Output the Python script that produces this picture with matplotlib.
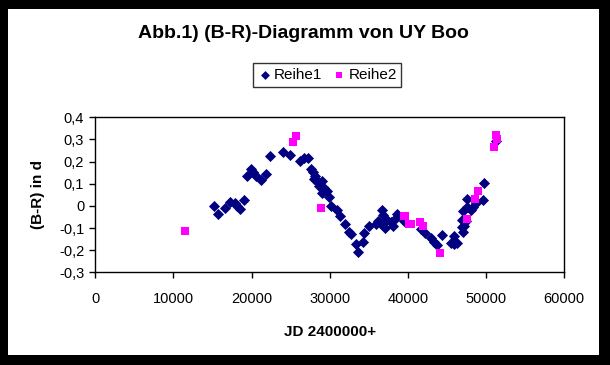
import matplotlib
matplotlib.use("Agg")
import matplotlib.pyplot as plt
from matplotlib.patches import Rectangle
from matplotlib.ticker import FuncFormatter

# Reihe1 (diamonds)
r1_x = [15130, 15730, 16540, 17180, 17820, 18130, 18460, 18970, 19400, 19870,
        20180, 20560, 21150, 21880, 22400, 24060, 24870, 26240, 26760, 27180,
        27560, 27870, 28080, 28040, 28380, 29020, 28590, 29230, 29020, 29580,
        29870, 30090, 30860, 31280, 31970, 32440, 32740, 33290, 33590, 34280,
        34360, 35000, 35860, 36150, 36410, 36720, 36840, 37010, 37360, 37780,
        38130, 38550, 38420, 39490, 41630, 42140, 42910, 43330, 43680, 44360,
        45470, 45900, 45900, 46330, 47010, 46880, 46970, 47100, 47530, 47610,
        48040, 48260, 48680, 49540, 49670, 51240, 47180, 47400]
r1_y = [0.000, -0.036, -0.009, 0.018, 0.012, 0.000, -0.014, 0.028, 0.134, 0.168,
        0.152, 0.137, 0.117, 0.146, 0.227, 0.242, 0.232, 0.201, 0.217, 0.218,
        0.168, 0.153, 0.137, 0.122, 0.111, 0.111, 0.089, 0.081, 0.056, 0.066,
        0.041, -0.002, -0.017, -0.047, -0.081, -0.119, -0.128, -0.170, -0.208, -0.164,
        -0.122, -0.089, -0.084, -0.070, -0.077, -0.017, -0.039, -0.099, -0.062, -0.074,
        -0.092, -0.035, -0.054, -0.069, -0.104, -0.122, -0.145, -0.164, -0.178, -0.130,
        -0.167, -0.134, -0.172, -0.167, -0.119, -0.095, -0.062, -0.024, -0.005, 0.032,
        -0.017, -0.005, 0.014, 0.028, 0.104, 0.292, -0.089, -0.069]

# Reihe2 (squares)
r2_x = [11500, 25690, 25310, 28900, 39580, 40130, 39490, 40350, 41500, 41880,
        44060, 47610, 48550, 49020, 50950, 51240, 51330]
r2_y = [-0.115, 0.314, 0.287, -0.011, -0.047, -0.084, -0.047, -0.083, -0.074, -0.093,
        -0.214, -0.059, 0.033, 0.066, 0.265, 0.319, 0.304]

x_ticks = [0, 10000, 20000, 30000, 40000, 50000, 60000]
y_ticks = [-0.3, -0.2, -0.1, 0.0, 0.1, 0.2, 0.3, 0.4]

plt.rcParams['font.family'] = ['Liberation Sans', 'DejaVu Sans']

W, H = 610, 365
fig = plt.figure(figsize=(W / 100, H / 100), dpi=100, facecolor='black')
fig.patches.append(Rectangle((8 / W, 10 / H), 591 / W, 346 / H,
                             transform=fig.transFigure, facecolor='white',
                             edgecolor='none', zorder=-5))

ax = fig.add_axes([95.3 / W, 1 - 272.3 / H, 469 / W, 155 / H])
ax.set_zorder(2)
ax.scatter(r1_x, r1_y, marker='D', s=32, color='#000080', linewidths=0,
           label='Reihe1', zorder=3)
ax.scatter(r2_x, r2_y, marker='s', s=38, color='#FF00FF', linewidths=0,
           label='Reihe2', zorder=4)

ax.set_xlim(0, 60000)
ax.set_ylim(-0.3, 0.4)
ax.set_xticks(x_ticks)
ax.set_yticks(y_ticks)
ax.yaxis.set_major_formatter(FuncFormatter(
    lambda v, p: '0' if abs(v) < 1e-9 else ('%.1f' % v).replace('.', ',')))
ax.tick_params(direction='out', length=4, width=1, labelsize=10.5, pad=4)
ax.tick_params(axis='x', pad=10)
for s in ax.spines.values():
    s.set_linewidth(1)

ax.set_xlabel('JD 2400000+', fontsize=11, fontweight='bold', labelpad=14)
ax.set_ylabel('(B-R) in d', fontsize=11, fontweight='bold', labelpad=10)

fig.text(303 / W, 1 - 33 / H, 'Abb.1) (B-R)-Diagramm von UY Boo',
         ha='center', va='center', fontsize=14, fontweight='bold')

leg = fig.legend(loc='center', bbox_to_anchor=(327 / W, 1 - 75 / H),
                 ncol=2, frameon=True, fancybox=False, fontsize=11,
                 handletextpad=0.1, columnspacing=0.6, borderpad=0.3,
                 handlelength=1.0, markerscale=0.8)
leg.get_frame().set_edgecolor('black')
leg.get_frame().set_linewidth(1)

fig.savefig('out.png', dpi=100, facecolor='black')
